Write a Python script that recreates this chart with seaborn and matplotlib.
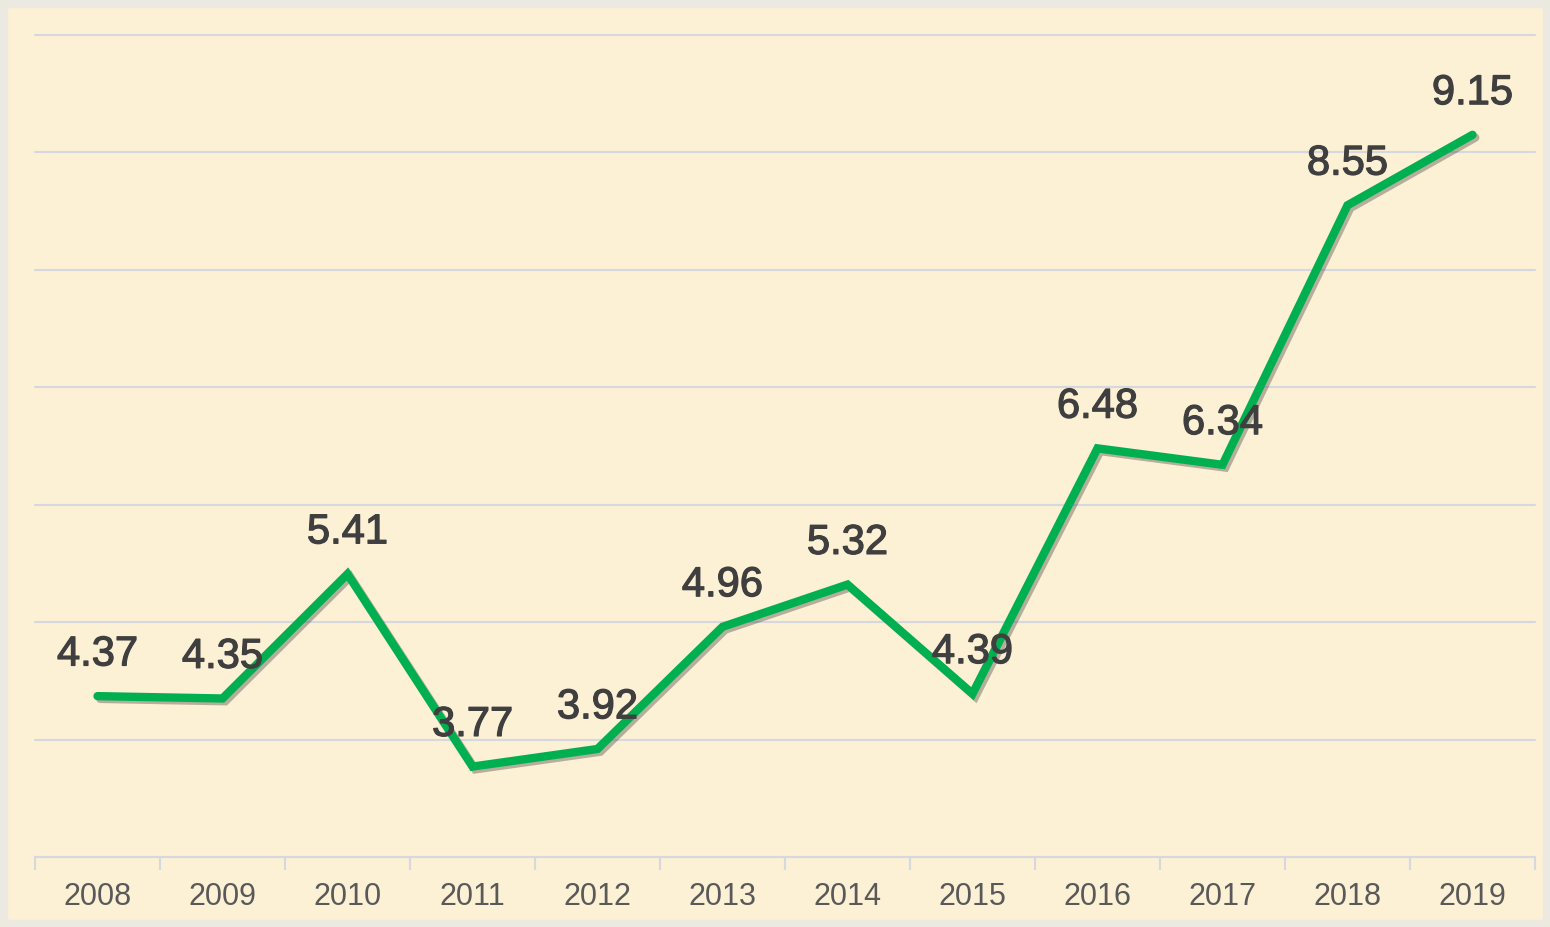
import matplotlib
matplotlib.use("Agg")
import matplotlib.pyplot as plt
import matplotlib.patheffects as pe
from matplotlib import font_manager
from matplotlib.patches import Rectangle
from matplotlib.ticker import FixedLocator
import seaborn as sns
import pandas as pd

years = ["2008", "2009", "2010", "2011", "2012", "2013",
         "2014", "2015", "2016", "2017", "2018", "2019"]
values = [4.37, 4.35, 5.41, 3.77, 3.92, 4.96,
          5.32, 4.39, 6.48, 6.34, 8.55, 9.15]

df = pd.DataFrame({"year": years, "value": values})

sns.set_style("white")
names = {f.name for f in font_manager.fontManager.ttflist}
narrow = "Liberation Sans Narrow" if "Liberation Sans Narrow" in names else "Liberation Sans"
plt.rcParams["font.family"] = ["Liberation Sans", "DejaVu Sans"]

bg = "#FCF0D5"
grid_c = "#D5D8DF"

fig = plt.figure(figsize=(15.5, 9.27), dpi=100, facecolor=bg)
ax = fig.add_axes([35 / 1550, 70 / 927, 1500 / 1550, 822 / 927])
ax.set_facecolor(bg)

sns.lineplot(data=df, x="year", y="value", ax=ax, color="#00B050",
             linewidth=6, sort=False, solid_capstyle="round",
             solid_joinstyle="miter",
             path_effects=[pe.SimpleLineShadow(offset=(2, -2), shadow_color="#333333", alpha=0.35),
                           pe.Normal()])

# 数据标签
for i, v in enumerate(values):
    ax.annotate(f"{v:.2f}", (i, v), xytext=(0, 30), textcoords="offset points",
                ha="center", va="center", fontsize=30, color="#3F3F3F",
                path_effects=[pe.withStroke(linewidth=0.9, foreground="#3F3F3F")])

n = len(years)
ax.set_xlim(-0.5, n - 0.5)
ax.set_ylim(3, 10)
ax.set_yticks(range(3, 11))
ax.set_yticklabels([])
ax.tick_params(axis="y", length=0)
ax.grid(axis="y", color=grid_c, linewidth=1.5)
for gl in ax.get_ygridlines():
    gl.set_clip_on(False)
ax.set_axisbelow(True)

ax.xaxis.set_minor_locator(FixedLocator([k - 0.5 for k in range(n + 1)]))
ax.tick_params(axis="x", which="major", bottom=False, length=0, pad=18,
               labelsize=22, labelcolor="#595959")
ax.tick_params(axis="x", which="minor", bottom=True, length=9, width=1.5,
               color=grid_c, direction="out")
for lab in ax.get_xticklabels():
    lab.set_fontfamily(narrow)
ax.set_xlabel("")
ax.set_ylabel("")

for s in ["top", "right", "left"]:
    ax.spines[s].set_visible(False)
ax.spines["bottom"].set_color(grid_c)
ax.spines["bottom"].set_linewidth(1.5)

fig.patches.append(Rectangle((0, 0), 1, 1, transform=fig.transFigure,
                             fill=False, edgecolor="#ECEAE0", linewidth=11))

fig.savefig("out.png", dpi=100, facecolor=bg)
